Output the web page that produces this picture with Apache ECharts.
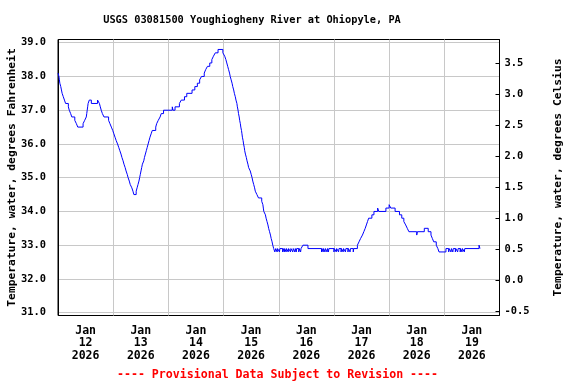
<!DOCTYPE html>
<html><head><meta charset="utf-8">
<script src="https://cdn.jsdelivr.net/npm/echarts@6/dist/echarts.min.js"></script>
<style>html,body{margin:0;padding:0;background:#fff}#c{width:576px;height:384px}</style>
</head><body><div id="c"></div>
<script>
const titleText = 'USGS 03081500 Youghiogheny River at Ohiopyle, PA';
const footerText = '---- Provisional Data Subject to Revision ----';
const leftAxisName = 'Temperature, water, degrees Fahrenheit';
const rightAxisName = 'Temperature, water, degrees Celsius';
const dayLabelHours = [12, 36, 60, 84, 108, 132, 156, 180];
const dayLabels = ['Jan\n12\n2026', 'Jan\n13\n2026', 'Jan\n14\n2026', 'Jan\n15\n2026', 'Jan\n16\n2026', 'Jan\n17\n2026', 'Jan\n18\n2026', 'Jan\n19\n2026'];
const fTicks = [31, 32, 33, 34, 35, 36, 37, 38, 39];
const cTicks = [-0.5, 0, 0.5, 1, 1.5, 2, 2.5, 3, 3.5];
// [hours since Jan 12 00:00, water temperature °F]
const readings = [
  [0,38.1],[0.4,38.0],[0.6,37.9],[0.8,37.8],[1.2,37.7],[1.5,37.6],[1.8,37.5],[2.3,37.4],[2.8,37.3],[3.3,37.2],
  [4.5,37.1],[4.9,37.0],[5.5,36.9],[6.0,36.8],[7.3,36.7],[8.0,36.6],[8.6,36.5],[10.9,36.6],[11.6,36.7],[12.3,36.8],
  [12.5,36.9],[12.7,37.0],[12.9,37.1],[13.1,37.2],[13.6,37.3],[14.5,37.2],[17.2,37.3],[18.0,37.2],[18.4,37.1],[18.8,37.0],
  [19.3,36.9],[20.0,36.8],[22.0,36.7],[22.6,36.6],[23.2,36.5],[23.8,36.4],[24.3,36.3],[24.8,36.2],[25.3,36.1],[25.9,36.0],
  [26.4,35.9],[26.9,35.8],[27.4,35.7],[27.8,35.6],[28.3,35.5],[28.7,35.4],[29.2,35.3],[29.6,35.2],[30.1,35.1],[30.5,35.0],
  [31.0,34.9],[31.4,34.8],[32.1,34.7],[32.6,34.6],[33.0,34.5],[34.0,34.6],[34.4,34.7],[34.8,34.8],[35.2,34.9],[35.5,35.0],
  [35.8,35.1],[36.1,35.2],[36.4,35.3],[36.7,35.4],[37.3,35.5],[37.6,35.6],[38.0,35.7],[38.4,35.8],[38.8,35.9],[39.2,36.0],
  [39.6,36.1],[40.0,36.2],[40.5,36.3],[41.0,36.4],[42.5,36.5],[42.9,36.6],[43.6,36.7],[44.4,36.8],[44.9,36.9],[45.9,37.0],
  [49.7,37.1],[50.0,37.0],[50.9,37.1],[52.8,37.2],[53.6,37.3],[55.0,37.4],[56.0,37.5],[58.3,37.6],[59.5,37.7],[60.6,37.8],
  [61.6,37.9],[62.4,38.0],[63.6,38.1],[64.2,38.2],[65.0,38.3],[66.0,38.4],[66.9,38.5],[67.6,38.6],[68.4,38.7],[69.6,38.8],
  [71.7,38.7],[72.5,38.6],[73.0,38.5],[73.4,38.4],[73.8,38.3],[74.2,38.2],[74.6,38.1],[74.9,38.0],[75.3,37.9],[75.7,37.8],
  [76.0,37.7],[76.4,37.6],[76.7,37.5],[77.1,37.4],[77.4,37.3],[77.8,37.2],[78.0,37.1],[78.3,37.0],[78.5,36.9],[78.8,36.8],
  [79.0,36.7],[79.3,36.6],[79.5,36.5],[79.8,36.4],[80.0,36.3],[80.2,36.2],[80.5,36.1],[80.7,36.0],[81.0,35.9],[81.2,35.8],
  [81.5,35.7],[81.9,35.6],[82.2,35.5],[82.6,35.4],[82.9,35.3],[83.6,35.2],[84.0,35.1],[84.4,35.0],[84.7,34.9],[85.1,34.8],
  [85.5,34.7],[85.8,34.6],[86.5,34.5],[87.2,34.4],[88.6,34.3],[89.1,34.2],[89.3,34.1],[89.5,34.0],[90.2,33.9],[90.5,33.8],
  [90.9,33.7],[91.3,33.6],[91.6,33.5],[92.0,33.4],[92.4,33.3],[92.7,33.2],[93.1,33.1],[93.4,33.0],[93.8,32.9],[94.3,32.8],
  [94.7,32.9],[95.3,32.8],[95.5,32.9],[96.3,32.8],[96.5,32.9],[97.7,32.8],[97.9,32.9],[98.4,32.8],[98.6,32.9],[99.2,32.8],
  [99.4,32.9],[100.1,32.8],[100.3,32.9],[101.1,32.8],[101.3,32.9],[102.1,32.8],[102.3,32.9],[103.0,32.8],[103.2,32.9],[103.6,32.8],
  [103.8,32.9],[104.7,32.8],[104.9,32.9],[105.5,32.8],[105.7,32.9],[106.5,33.0],[108.7,32.9],[114.6,32.8],[114.8,32.9],[115.3,32.8],
  [115.5,32.9],[116.1,32.8],[116.3,32.9],[117.0,32.8],[117.2,32.9],[117.6,32.8],[117.8,32.9],[120.0,32.8],[120.2,32.9],[121.0,32.8],
  [121.2,32.9],[122.0,32.8],[122.2,32.9],[123.1,32.8],[123.3,32.9],[124.0,32.8],[124.2,32.9],[125.0,32.8],[125.2,32.9],[126.1,32.8],
  [126.3,32.9],[127.0,32.8],[127.2,32.9],[128.4,32.8],[128.6,32.9],[130.2,33.0],[130.9,33.1],[131.6,33.2],[132.4,33.3],[133.0,33.4],
  [133.6,33.5],[134.1,33.6],[134.6,33.7],[135.1,33.8],[136.5,33.9],[137.4,34.0],[139.0,34.1],[139.5,34.0],[142.6,34.1],[144.0,34.2],
  [144.7,34.1],[146.6,34.0],[148.5,33.9],[149.5,33.8],[150.4,33.7],[151.2,33.6],[151.9,33.5],[152.6,33.4],[156.0,33.3],[156.3,33.4],
  [159.3,33.5],[161.0,33.4],[162.2,33.3],[162.8,33.2],[163.4,33.1],[164.5,33.0],[165.2,32.9],[165.7,32.8],[168.7,32.9],[169.9,32.8],
  [170.1,32.9],[170.9,32.8],[171.1,32.9],[171.7,32.8],[171.9,32.9],[172.8,32.8],[173.0,32.9],[173.8,32.8],[174.0,32.9],[174.9,32.8],
  [175.1,32.9],[175.7,32.8],[175.9,32.9],[176.7,32.8],[176.9,32.9],[183.1,33.0],[183.5,32.9],[183.8,32.9]
];

const FONT = 'DejaVu Sans Mono';
const chart = echarts.init(document.getElementById('c'), null, {renderer: 'canvas'});
chart.setOption({
  animation: false,
  backgroundColor: '#fff',
  grid: {left: 58, right: 76.5, top: 39.5, bottom: 68.5, show: true, borderColor: '#000', borderWidth: 1, backgroundColor: 'transparent', containLabel: false, outerBoundsMode: 'none'},
  xAxis: {
    type: 'value', min: 0, max: 192, interval: 24,
    axisLine: {show: false}, axisTick: {show: false},
    splitLine: {show: true, lineStyle: {color: '#c8c8c8', width: 1}},
    axisLabel: {
      customValues: dayLabelHours,
      formatter: v => dayLabels[dayLabelHours.indexOf(v)],
      fontFamily: FONT, fontWeight: 'bold', fontSize: 11.5, color: '#000', lineHeight: 12.5, margin: 9
    }
  },
  yAxis: [
    {
      type: 'value', position: 'left', min: 30.917, max: 39.095,
      name: leftAxisName, nameLocation: 'middle', nameRotate: 90, nameGap: 40, nameMoveOverlap: false,
      nameTextStyle: {fontFamily: FONT, fontWeight: 'bold', fontSize: 11.3, color: '#000'},
      axisLine: {show: true, lineStyle: {color: '#000'}},
      axisTick: {show: false, customValues: fTicks},
      axisLabel: {customValues: fTicks, formatter: v => v.toFixed(1), fontFamily: FONT, fontWeight: 'bold', fontSize: 10.4, color: '#000', margin: 12},
      splitLine: {show: true, lineStyle: {color: '#c8c8c8', width: 1}}
    },
    {
      type: 'value', position: 'right', min: -0.561, max: 3.883,
      name: rightAxisName, nameLocation: 'middle', nameRotate: 90, nameGap: 53, nameMoveOverlap: false,
      nameTextStyle: {fontFamily: FONT, fontWeight: 'bold', fontSize: 11.3, color: '#000'},
      axisLine: {show: true, lineStyle: {color: '#000'}},
      axisTick: {show: true, inside: true, length: 4, customValues: cTicks, lineStyle: {color: '#000'}},
      axisLabel: {customValues: cTicks, formatter: v => v.toFixed(1), fontFamily: FONT, fontWeight: 'bold', fontSize: 10.4, color: '#000', margin: 5},
      splitLine: {show: false}
    }
  ],
  series: [{
    type: 'line', data: readings, step: 'end', yAxisIndex: 0,
    showSymbol: false, symbol: 'none',
    lineStyle: {color: '#0000ff', width: 1}
  }],
  graphic: [
    {type: 'text', x: 252, y: 20, style: {text: titleText, fontFamily: FONT, fontWeight: 'bold', fontSize: 10.3, fill: '#000', textAlign: 'center', textVerticalAlign: 'middle'}},
    {type: 'text', x: 277.5, y: 375, style: {text: footerText, fontFamily: FONT, fontWeight: 'bold', fontSize: 11.6, fill: '#ff0000', textAlign: 'center', textVerticalAlign: 'middle'}}
  ]
});
</script></body></html>
